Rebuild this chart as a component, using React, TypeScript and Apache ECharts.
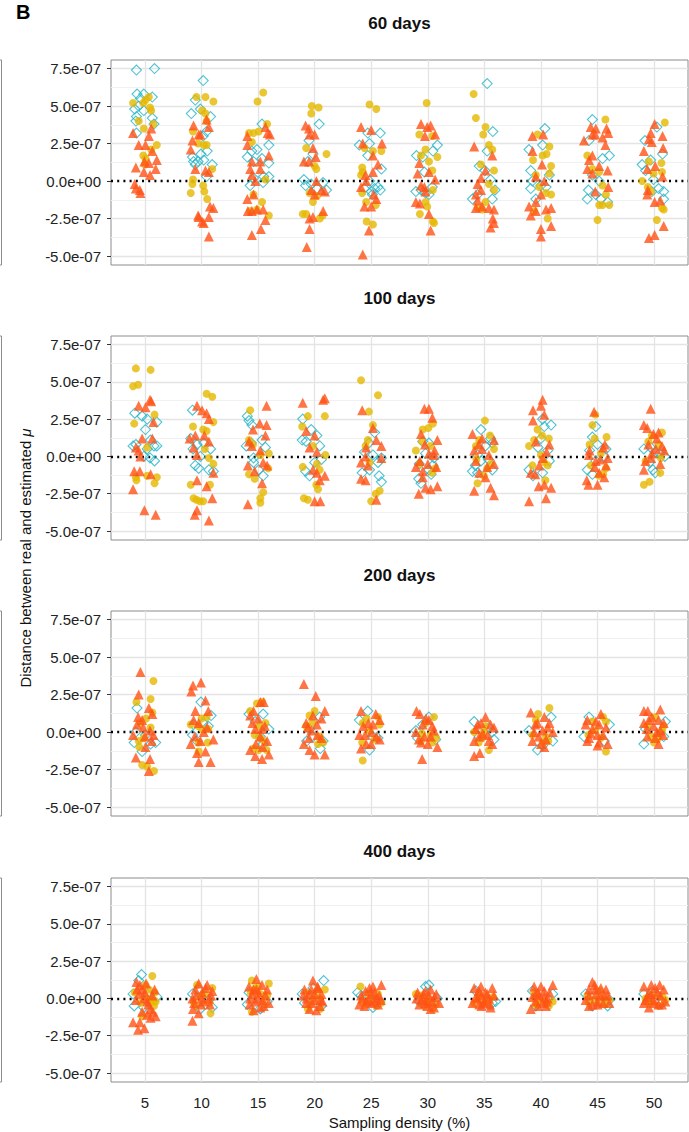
import React, { useEffect, useRef } from "react";
import * as echarts from "echarts";

// x axis categories (sampling density, %)
const categories = ["5", "10", "15", "20", "25", "30", "35", "40", "45", "50"];
const panelTitles = ["60 days", "100 days", "200 days", "400 days"];
const yTicks = [-5e-7, -2.5e-7, 0, 2.5e-7, 5e-7, 7.5e-7];
const yMinor = [-3.75e-7, -1.25e-7, 1.25e-7, 3.75e-7, 6.25e-7];

// points: [category position (1..10) incl. jitter, distance in units of 1e-8]
// ---- 60 days ----
const d60Diamond = [
  [0.85,74],[1.17,75],[0.86,58],[0.98,58],[0.92,55],[1.13,56],[0.82,48],[0.89,50],[0.98,47],[0.85,43],[1.13,42],[0.84,40],[1.16,38],[0.85,32],
  [2.03,67],[1.89,54],[1.82,45],[2.16,43],[1.98,48],[2.09,33],[2.03,30],[2.1,20],[1.84,16],[1.94,13],[2.19,11],[1.89,11],[2.04,14],[2.09,3],[1.99,18],[1.86,13],
  [3.07,38],[3.19,24],[2.81,16],[2.89,20],[2.98,21],[2.92,13],[3.07,15],[3.19,12],[3.1,3],[3.19,3],[2.86,-3],[2.92,2],[3.09,-1],
  [4.08,38],[3.9,27],[3.97,18],[3.88,13],[3.81,1],[3.84,-3],[4.04,-5],[4.15,-1],[4.21,-6],[3.94,-2],
  [4.94,32],[5.16,32],[4.79,24],[4.97,25],[4.94,17],[5.18,8],[4.88,-5],[5.0,-7],[5.06,-5],[5.12,-4],[5.16,-6],[5.02,-9],[4.97,0],
  [5.8,17],[6.09,20],[6.17,24],[5.79,-7],[5.88,-6],[5.96,-8],[6.02,-9],[6.08,-4],[5.94,6],[5.91,16],
  [7.05,65],[7.15,33],[7.05,20],[6.91,10],[7.11,1],[7.19,-6],[6.79,-12],[6.88,-9],[7.14,-12],[7.01,7],
  [8.07,35],[7.79,21],[8.03,24],[7.82,7],[7.85,0],[8.0,-3],[8.09,-4],[7.91,-12],[7.82,-5],[8.15,4],
  [8.91,41],[9.21,17],[8.85,27],[9.09,15],[8.91,4],[8.84,-6],[8.97,-9],[8.82,-12],[9.06,-12],[9.18,-14],[9.03,0],
  [10.05,36],[9.84,27],[10.15,18],[9.79,11],[9.85,7],[9.99,1],[10.08,-5],[10.17,-7],[10.17,-12],[9.96,-7],[9.94,14]
];
const d60Circle = [
  [0.79,52],[0.97,52],[1.07,56],[1.01,54],[1.11,47],[1.09,49],[0.89,40],[1.15,38],[0.98,35],[1.21,24],[0.97,17],[1.01,15],[1.11,21],[1.0,11],
  [1.91,56],[2.07,56],[2.21,53],[2.01,47],[2.07,45],[2.09,40],[1.85,33],[1.94,25],[2.04,24],[2.09,24],[2.19,8],[1.85,1],[1.84,-2],[1.81,-8],[2.03,-3],[2.05,-7],[2.1,-12],
  [3.09,59],[2.99,53],[3.16,38],[2.84,32],[2.92,32],[3.01,33],[2.89,26],[3.13,1],[2.92,-9],[3.07,-14],[3.19,-23],[2.86,-20],[2.98,-19],
  [3.95,50],[4.07,49],[3.94,45],[3.85,22],[4.0,10],[4.03,8],[4.21,18],[3.91,-8],[4.04,-10],[3.97,-14],[3.79,-22],[3.85,-22],[4.09,-25],[4.14,-23],
  [4.97,51],[5.09,48],[4.88,22],[5.03,20],[5.18,20],[4.84,9],[4.85,6],[4.82,4],[4.84,-8],[4.91,-14],[5.08,-16],[4.92,-27],[5.03,-29],
  [5.98,52],[5.85,31],[6.08,30],[5.96,21],[6.17,16],[5.88,17],[6.02,13],[6.08,7],[6.09,-6],[5.96,-14],[5.99,-17],[5.86,-22],[6.09,-27],[6.11,-28],
  [6.81,58],[6.85,42],[7.02,36],[6.98,31],[7.08,24],[7.14,21],[6.94,11],[7.17,7],[7.08,-2],[7.17,-6],[7.02,-14],[6.96,-19],[6.88,-18],
  [7.94,31],[8.15,23],[7.86,14],[8.03,17],[8.1,18],[8.18,10],[7.91,4],[8.15,5],[7.97,-4],[8.09,-8],[8.18,-9],[8.12,-25],[7.88,-20],
  [9.14,41],[8.82,17],[8.91,8],[9.03,6],[9.09,-3],[9.03,-16],[9.09,-16],[9.21,-16],[9.0,-26],[9.15,-9],
  [10.19,39],[9.91,13],[10.13,12],[9.99,5],[10.14,6],[9.79,0],[9.89,-4],[9.95,-7],[10.14,-18],[10.17,-19],[10.05,-26]
];
const d60Triangle = [
  [0.79,32],[0.89,24],[1.01,24],[1.11,35],[1.07,30],[1.13,20],[0.99,13],[1.07,12],[1.21,14],[0.84,9],[1.09,4],[1.19,8],[0.98,6],[0.82,-2],[0.84,-5],[0.91,-6],[0.92,-8],
  [1.86,37],[1.84,27],[1.95,31],[1.98,31],[2.09,41],[2.13,36],[1.81,21],[1.89,8],[2.07,7],[2.13,6],[1.95,-24],[2.01,-27],[2.04,-28],[2.13,-24],[1.94,-23],[2.15,-17],[2.21,-18],[2.13,-37],
  [2.81,30],[3.13,36],[3.17,32],[3.21,31],[2.81,24],[2.89,13],[3.04,13],[3.19,17],[2.86,8],[3.04,8],[2.89,4],[2.95,0],[2.81,-12],[2.92,-9],[2.89,-20],[2.98,-19],[3.09,-19],[2.82,-20],[3.13,-26],[3.05,-32],[2.89,-36],
  [3.84,37],[3.91,31],[4.0,31],[3.9,35],[3.97,22],[3.81,13],[3.9,13],[4.02,16],[3.94,-6],[4.03,0],[4.0,-9],[4.12,-6],[4.18,-7],[3.91,-25],[3.97,-24],[4.15,-20],[3.91,-32],[3.86,-44],
  [4.82,36],[5.0,34],[4.85,25],[5.19,25],[5.03,17],[5.12,11],[4.9,4],[5.03,6],[4.82,-4],[4.91,0],[5.04,-9],[5.09,-12],[5.0,-17],[4.88,-17],[4.96,-33],[4.85,-49],
  [5.88,38],[5.99,36],[6.05,37],[6.13,31],[5.95,30],[5.85,12],[6.02,6],[5.82,5],[6.13,1],[5.88,-3],[5.94,-4],[5.79,-14],[5.86,-15],[6.02,-22],[6.05,-33],[5.96,-7],
  [6.82,23],[7.14,17],[7.02,7],[6.94,2],[6.88,-2],[6.94,-6],[6.85,-9],[6.88,-13],[6.85,-18],[6.96,-17],[7.08,-18],[7.17,-19],[7.15,-25],[7.17,-28],[7.11,-31],
  [7.85,30],[8.04,31],[7.85,20],[8.02,11],[7.91,3],[8.06,0],[8.0,-9],[7.91,-14],[7.79,-17],[7.82,-23],[7.91,-20],[8.09,-19],[8.18,-18],[8.0,-32],[8.0,-37],[8.18,-30],
  [8.88,36],[8.97,35],[9.16,35],[8.91,31],[8.96,31],[9.19,32],[8.76,27],[9.09,29],[9.14,24],[8.91,17],[8.85,14],[8.82,8],[9.03,10],[9.18,7],[8.91,5],[8.96,-7],[9.19,-4],
  [10.01,38],[9.94,32],[10.15,30],[9.91,28],[9.96,26],[10.16,22],[9.82,20],[10.02,10],[9.88,8],[10.15,3],[9.89,-6],[9.88,-9],[10.01,-14],[10.11,-13],[10.17,-30],[10.01,-36],[9.91,-38]
];
// ---- 100 days ----
const d100Diamond = [
  [0.82,29],[0.95,27],[1.04,25],[1.21,23],[1.01,18],[0.79,7],[0.84,8],[1.04,5],[1.16,7],[1.21,7],[0.98,0],[1.09,-1],[1.17,-3],[1.1,11],
  [1.84,31],[1.81,12],[1.85,5],[2.04,9],[2.16,5],[1.89,-6],[1.95,-8],[2.13,-9],[2.21,-10],[1.98,0],[1.92,8],
  [2.81,27],[2.84,24],[2.89,21],[2.79,7],[3.07,11],[3.13,6],[2.92,-1],[3.01,-9],[3.09,-13],[2.92,-4],[2.88,9],
  [3.79,25],[3.94,18],[3.78,11],[3.85,10],[4.04,14],[4.09,7],[4.0,-4],[3.84,-10],[3.91,-13],[4.12,-2],
  [5.06,16],[4.96,9],[4.88,3],[5.18,-1],[5.12,-4],[4.84,-11],[4.97,-9],[5.14,-13],[5.18,-17],[5.03,1],
  [5.91,10],[6.02,9],[5.85,-5],[5.88,-18],[6.02,-9],[6.09,-6],[6.11,-1],[5.96,2],[6.06,-12],[5.84,-15],
  [6.94,18],[7.11,12],[7.14,9],[7.02,7],[6.88,1],[6.79,-10],[6.88,-11],[7.14,-9],[6.94,-3],[7.07,-2],[6.84,-6],
  [8.03,25],[8.06,20],[8.18,21],[8.12,4],[7.79,-9],[7.86,-13],[8.03,-11],[8.15,-3],[7.95,6],[8.0,12],
  [8.97,20],[8.91,13],[9.15,5],[8.82,-9],[8.91,-12],[8.97,-3],[9.0,8],[9.12,0],[8.86,4],
  [9.94,6],[10.02,3],[10.19,0],[9.98,-9],[10.02,-11],[9.82,5],[10.1,2],[9.92,-4]
];
const d100Circle = [
  [0.84,59],[0.79,47],[0.88,48],[1.1,58],[1.17,28],[0.81,22],[1.04,6],[1.04,-13],[0.84,-14],[0.85,-16],[1.21,-14],[1.17,-18],
  [2.09,42],[2.19,40],[1.85,20],[2.03,18],[2.09,17],[2.21,23],[2.06,5],[2.13,-1],[2.21,-5],[1.81,-19],[1.91,-29],[1.97,-30],[2.03,-30],[2.15,-19],[1.86,-28],
  [2.86,31],[2.84,11],[2.91,8],[3.04,1],[3.19,2],[2.84,-12],[2.94,-15],[3.18,-8],[3.09,-24],[3.04,-28],[3.04,-31],
  [3.88,27],[4.18,27],[3.78,20],[3.97,7],[4.19,1],[4.04,-5],[3.79,-7],[4.09,-9],[4.03,-19],[4.06,-22],[3.81,-28],[3.88,-29],
  [4.82,51],[4.96,30],[5.12,41],[5.03,21],[4.94,11],[4.9,7],[4.97,-4],[5.08,-25],[5.0,-30],[5.15,-23],
  [5.79,4],[5.91,18],[6.01,19],[6.09,22],[6.05,7],[5.85,-5],[6.08,-11],[5.9,10],[6.13,-8],
  [7.01,24],[6.91,11],[7.17,5],[6.85,7],[7.11,-5],[6.99,-13],[6.88,-18],[7.05,-8],[7.1,14],[6.86,-2],
  [7.94,18],[7.79,7],[7.88,11],[8.06,-4],[8.12,-6],[8.08,-16],[8.0,1],[7.85,-6],[8.14,12],[8.02,14],
  [8.96,28],[8.91,21],[9.16,13],[8.86,8],[9.06,2],[9.15,-8],[9.03,-13],[8.95,12],[9.1,-12],[8.88,-6],
  [10.14,16],[9.96,14],[10.08,8],[9.85,-3],[10.11,-11],[9.82,-19],[9.92,-17],[9.9,10],[10.12,-1]
];
const d100Triangle = [
  [0.89,34],[1.01,33],[1.09,38],[1.11,37],[1.15,23],[0.95,12],[1.13,12],[0.84,6],[0.89,4],[0.92,0],[0.81,-10],[0.91,-10],[1.1,-12],[0.79,-22],[0.99,-36],[1.19,-39],
  [1.92,34],[2.01,31],[2.09,29],[2.13,25],[2.13,10],[1.79,12],[1.89,14],[2.05,14],[1.86,6],[1.92,1],[1.92,-16],[2.09,-20],[2.21,-11],[2.19,-28],[1.92,-36],[1.88,-39],[2.13,-43],
  [3.15,34],[3.03,22],[3.15,21],[2.91,18],[2.84,10],[2.89,7],[3.13,14],[3.04,4],[2.82,-6],[2.94,-10],[3.09,-4],[3.16,-6],[3.07,-18],[2.82,-32],
  [3.79,36],[4.15,38],[4.18,39],[3.85,17],[4.0,14],[3.91,6],[4.04,3],[3.97,-9],[4.04,-11],[4.18,-13],[4.09,-16],[4.0,-30],[4.1,-30],
  [4.84,31],[5.03,19],[5.09,11],[5.18,7],[4.91,6],[4.9,0],[4.82,-4],[5.18,-1],[4.94,-6],[4.82,-15],[4.9,-16],[5.09,-29],
  [5.94,32],[6.02,32],[6.08,26],[5.88,15],[6.17,11],[6.02,2],[6.11,1],[5.79,-7],[5.91,-10],[6.15,-7],[5.91,-14],[5.96,-21],[6.05,-22],[6.17,-20],[5.84,-25],[5.86,-3],[6.0,-5],[6.12,4],[5.95,8],
  [6.79,15],[6.96,12],[7.17,11],[6.82,4],[7.08,1],[6.85,-3],[7.17,-5],[6.91,-11],[7.02,-14],[7.11,-21],[6.82,-23],[7.17,-26],[6.96,5],[7.05,-7],[6.9,8],
  [8.03,38],[8.0,34],[7.86,31],[8.06,28],[7.86,24],[7.91,10],[8.15,8],[8.03,-1],[7.97,-6],[7.82,-11],[8.06,-19],[7.96,-20],[8.18,-21],[8.09,-28],[7.79,-30],[8.1,3],[7.9,-12],
  [8.94,30],[9.1,6],[8.97,-3],[9.15,-6],[9.03,-11],[9.12,-14],[8.81,-16],[8.84,-19],[9.0,-19],[8.85,1],[8.86,4],[9.05,-2],[9.13,8],[8.95,-7],[9.18,-1],
  [9.94,32],[9.82,21],[9.88,19],[9.99,15],[10.08,16],[10.14,7],[9.85,-3],[10.11,-5],[9.82,-9],[9.96,2],[9.9,8],[10.05,12],[10.18,4],[9.95,-1],[10.03,5]
];
// ---- 200 days ----
const d200Diamond = [
  [0.86,16],[0.81,-7],[0.95,-13],[1.1,-8],[1.19,-7],[0.84,0],[1.01,-2],
  [1.99,20],[2.17,11],[1.86,5],[1.84,-2],[2.03,6],[1.92,-6],[2.12,4],
  [2.84,12],[3.09,12],[2.95,7],[3.19,2],[3.04,-3],[3.09,-8],
  [4.09,10],[3.91,2],[3.97,-3],[4.1,-11],[4.15,-6],[3.86,-6],
  [4.79,8],[4.94,14],[5.03,-3],[4.97,-12],[5.12,-4],
  [5.79,1],[5.91,5],[5.82,-4],[6.14,-5],[6.02,10],
  [6.82,7],[7.14,0],[6.91,-3],[7.08,3],[7.17,-5],
  [8.18,10],[7.79,1],[7.94,-12],[8.03,-9],[8.21,-6],
  [8.85,10],[8.76,-3],[9.21,5],[9.12,-6],
  [9.85,2],[10.2,7],[10.17,-3],[9.82,-8]
];
const d200Circle = [
  [1.15,34],[0.85,20],[1.1,22],[1.13,13],[0.92,6],[0.98,-4],[0.89,-6],[0.95,-22],[1.04,-23],[1.16,-26],[1.1,3],[1.02,9],[0.9,-10],
  [2.09,10],[1.94,4],[1.95,-7],[1.95,-13],[1.81,5],[2.11,-7],[2.01,2],[2.0,9],[2.12,2],
  [2.98,19],[3.07,20],[2.86,14],[3.01,4],[3.13,6],[3.04,-4],[3.1,-6],[2.92,-11],[3.01,-12],[2.94,-2],[3.15,-12],
  [4.0,14],[3.91,11],[4.09,-3],[3.85,4],[4.15,-7],[3.96,6],[4.06,-8],
  [5.12,10],[4.85,6],[4.97,1],[4.84,-7],[4.85,-19],[5.15,5],[5.06,-5],[4.92,9],
  [6.11,10],[5.96,6],[6.05,-2],[5.88,-6],[6.08,-7],[5.9,-1],[6.15,-4],
  [6.96,-4],[6.99,0],[7.08,-12],[6.82,0],[7.02,4],[6.9,-7],
  [8.15,16],[7.91,8],[7.85,-2],[8.09,-3],[8.03,-7],[8.13,-6],[7.95,12],
  [8.91,7],[9.15,7],[8.84,-2],[9.06,-4],[9.15,-13],[8.96,1],[9.1,10],
  [10.02,10],[9.88,4],[10.14,1],[9.95,-3],[10.08,-4],[10.0,-7],[10.17,4]
];
const d200Triangle = [
  [0.92,40],[0.89,25],[1.07,16],[1.13,12],[0.86,5],[0.79,-2],[0.97,3],[1.09,1],[1.15,-2],[1.01,-10],[1.09,-18],[0.84,-17],[1.07,-26],[0.95,8],[1.12,-6],[1.0,-3],[0.88,10],
  [1.82,27],[1.85,31],[1.99,33],[2.07,21],[1.89,14],[2.12,14],[1.86,8],[1.81,-8],[1.92,-14],[2.07,-13],[2.21,-5],[1.95,-20],[2.16,-20],[2.04,0],[1.95,6],[2.1,3],[1.98,-6],[1.88,-3],
  [3.04,20],[3.1,20],[2.92,14],[2.86,11],[2.95,2],[3.07,2],[3.16,-6],[2.86,-12],[2.95,-16],[3.07,-18],[3.19,-15],[3.04,-3],[2.9,6],[3.0,9],[3.12,4],[2.96,-8],[3.08,-10],
  [3.81,32],[4.02,24],[4.18,14],[3.85,6],[3.97,11],[4.04,5],[4.12,-4],[3.81,-8],[3.91,-12],[4.18,-15],[4.0,-15],[3.94,1],[3.9,-4],[4.05,-2],[4.12,9],[3.88,3],
  [4.82,14],[5.15,8],[5.03,5],[4.79,-2],[5.0,0],[5.09,-3],[5.15,-5],[4.82,-11],[4.91,-8],[4.89,-2],[4.95,6],[5.08,12],[4.86,4],[5.0,-8],
  [5.8,14],[5.86,12],[6.02,8],[5.91,5],[5.79,0],[5.94,-3],[6.05,-3],[6.11,1],[5.88,-7],[6.17,-10],[5.9,-18],[5.97,9],[6.08,4],[5.84,-5],[6.0,-8],
  [7.02,10],[6.94,6],[7.11,5],[7.17,3],[6.85,2],[6.91,-3],[6.82,-6],[7.08,-6],[6.82,-16],[6.92,-14],[6.97,-1],[7.06,-2],[6.88,5],[7.14,-8],
  [7.82,13],[8.06,10],[7.94,6],[8.15,6],[8.03,1],[7.88,0],[7.85,-6],[8.09,-5],[8.06,-10],[8.21,0],[7.96,-3],[8.12,3],[7.9,5],[8.0,-8],
  [9.06,12],[8.82,8],[8.79,5],[9.03,5],[8.91,2],[9.15,3],[9.0,-2],[8.85,-4],[8.82,-6],[9.18,-8],[9.03,-7],[8.97,7],[9.1,-2],[8.88,-1],[9.0,-9],
  [9.82,14],[9.89,14],[10.11,15],[9.91,8],[10.08,8],[10.17,6],[9.82,6],[9.99,4],[10.11,1],[9.88,-3],[10.02,-4],[10.08,-8],[9.96,10],[10.05,0],[9.87,2],[10.16,-2]
];
// ---- 400 days ----
const d400Diamond = [
  [0.94,16],[0.89,12],[0.79,3],[0.81,-5],[0.98,-6],[1.21,1],[1.04,3],
  [1.84,3],[1.95,6],[2.13,-1],[2.19,-6],[1.98,-7],
  [2.84,4],[2.81,-4],[3.04,-7],[3.16,-2],
  [4.16,12],[3.97,7],[3.78,3],[3.82,-3],[4.12,-5],
  [4.82,2],[5.03,-6],[5.15,-2],[4.76,4],
  [5.96,8],[6.02,9],[6.17,0],[5.85,-2],
  [7.14,-3],[7.2,-2],[6.85,5],
  [7.85,5],[8.21,3],[7.91,-5],
  [8.79,3],[9.21,-1],[8.91,-5],[9.18,-5],
  [9.82,3],[9.96,4],[10.14,-3]
];
const d400Circle = [
  [1.13,15],[0.82,4],[1.01,9],[1.07,6],[1.13,-1],[1.19,-2],[1.16,-5],[0.95,-12],[1.1,-3],[1.05,0],[0.92,-3],[1.17,4],
  [1.92,9],[2.19,7],[1.86,-2],[1.99,2],[2.16,-10],[2.05,3],[1.9,-5],[2.14,-3],
  [3.19,10],[2.89,12],[2.95,7],[3.04,3],[2.89,-9],[3.16,2],[3.0,8],[3.12,-4],[2.87,4],
  [4.04,5],[3.91,-5],[4.09,0],[3.88,-7],[4.18,6],[3.98,0],[4.1,-7],[3.86,4],
  [4.81,8],[5.12,3],[4.97,-1],[5.18,-3],[4.85,-3],[4.95,3],[5.1,-5],[4.9,-4],
  [5.79,3],[6.02,-1],[6.14,-4],[5.94,-5],[6.0,0],[5.88,2],[6.1,-6],
  [6.91,3],[7.08,-1],[6.96,-4],[6.82,-3],[7.02,-2],[6.9,1],[7.15,1],
  [7.88,4],[8.09,-3],[7.94,-4],[8.21,-2],[8.0,-1],[7.9,-4],[8.14,-5],
  [8.82,2],[9.03,5],[9.21,-1],[9.12,-4],[8.95,-1],[9.08,0],[8.85,-3],
  [10.2,-1],[9.85,0],[10.08,-5],[9.94,-3],[10.0,2],[9.9,-3],[10.15,1]
];
const d400Triangle = [
  [0.85,11],[0.91,9],[1.17,6],[0.95,6],[0.84,-1],[0.98,0],[1.04,-2],[1.1,-7],[1.04,-11],[1.19,-12],[1.1,-13],[0.79,-16],[0.91,-16],[0.88,-21],[0.99,-20],
  [1.0,4],[1.13,2],[0.9,3],[1.06,-4],[0.95,-9],[1.14,-9],[0.86,6],[1.02,10],
  [1.89,6],[2.07,7],[2.19,5],[2.01,4],[1.84,0],[2.13,0],[1.99,-4],[1.85,-7],[1.95,-10],[1.84,-15],
  [1.9,2],[2.04,-2],[2.15,-4],[1.95,10],[2.1,9],[1.87,-3],[2.0,0],[2.17,2],
  [2.97,13],[2.84,8],[3.07,9],[2.92,6],[3.01,4],[2.86,0],[2.95,-2],[3.1,-5],[3.19,-3],[2.92,-8],
  [3.0,0],[3.13,2],[2.9,3],[3.04,-6],[2.97,6],[3.16,6],[2.85,-4],[3.08,-1],
  [3.97,12],[3.82,6],[4.06,7],[3.91,3],[4.0,-1],[3.85,-3],[4.09,-5],[3.91,-7],[4.03,-8],[4.14,-2],
  [4.0,3],[4.12,3],[3.86,0],[3.95,-3],[4.1,-1],[4.05,8],[3.8,2],[3.94,6],
  [5.18,9],[4.97,7],[5.06,4],[4.82,2],[5.09,0],[4.91,-2],[4.79,-4],[5.0,-3],[5.12,-4],[4.88,-5],
  [5.0,3],[5.14,2],[4.9,5],[4.95,-1],[5.06,-2],[4.84,0],[5.17,-1],[5.03,8],
  [5.82,4],[5.91,0],[6.02,2],[6.08,-2],[5.85,-4],[5.99,-5],[6.11,-6],[6.05,-7],[6.2,-3],[5.96,5],
  [5.92,3],[6.0,-2],[6.12,1],[5.88,-1],[6.05,6],[5.95,-3],[6.15,3],[5.8,0],
  [6.82,7],[6.94,8],[7.14,7],[7.02,4],[6.88,0],[7.08,0],[6.79,-3],[6.99,-3],[7.11,-6],[6.91,-4],
  [6.95,2],[7.05,3],[6.85,1],[7.0,-2],[7.17,2],[6.9,5],[7.1,-4],[6.95,-5],
  [7.88,8],[8.21,9],[8.06,5],[7.97,2],[8.12,0],[7.91,-2],[8.03,-3],[7.82,-7],[8.09,-5],
  [7.95,4],[8.06,1],[8.15,4],[7.85,1],[7.95,-5],[8.1,-2],[8.0,8],[7.9,3],
  [8.91,11],[8.85,6],[9.06,7],[8.97,3],[9.12,2],[8.79,-1],[9.0,-2],[8.91,-4],[9.21,-3],[8.85,-5],
  [8.96,6],[9.05,2],[9.15,6],[8.85,2],[9.0,-4],[9.1,-3],[8.95,9],[9.18,2],
  [9.82,8],[10.02,7],[10.17,6],[9.91,4],[10.11,2],[9.85,-1],[9.99,-1],[9.91,-6],[10.08,-4],[10.2,-2],
  [9.95,3],[10.06,4],[9.88,1],[10.0,-3],[10.14,-4],[9.82,-3],[10.1,9],[9.95,9]
];

const panelData = [
  { diamonds: d60Diamond, circles: d60Circle, triangles: d60Triangle },
  { diamonds: d100Diamond, circles: d100Circle, triangles: d100Triangle },
  { diamonds: d200Diamond, circles: d200Circle, triangles: d200Triangle },
  { diamonds: d400Diamond, circles: d400Circle, triangles: d400Triangle },
];

const FONT = "'Liberation Sans', Arial, Helvetica, sans-serif";
const PANEL_TOPS = [60, 336, 611, 878];
const PANEL_H = [205, 204, 205, 204];
const TITLE_Y = [23, 298, 575, 851];
const GRID_LEFT = 111;
const GRID_W = 577;
const COL_DIAMOND = "#22b4c8";
const COL_CIRCLE = "#e6b800";
const COL_TRIANGLE = "#ff5217";

const fmtY = (v: number) => {
  if (Math.abs(v) < 1e-12) return "0.0e+00";
  return v.toExponential(1).replace(/e([+-])(\d)$/, "e$10$2");
};

function buildOption() {
  const catPos = categories.map((_, i) => i + 1);
  const grids: any[] = [];
  const xAxes: any[] = [];
  const yAxes: any[] = [];
  const series: any[] = [];
  const graphics: any[] = [];

  panelTitles.forEach((title, p) => {
    const isBottom = p === panelTitles.length - 1;
    grids.push({
      left: GRID_LEFT, top: PANEL_TOPS[p], width: GRID_W, height: PANEL_H[p],
      show: true, borderColor: "#8c8c8c", borderWidth: 1, backgroundColor: "#ffffff",
    });
    xAxes.push({
      type: "value", gridIndex: p, min: 0.4, max: 10.6,
      axisLine: { show: false },
      splitLine: { show: false },
      axisTick: { show: isBottom, customValues: catPos, length: 4, lineStyle: { color: "#333", width: 1 } },
      axisLabel: {
        show: isBottom, customValues: catPos, margin: 13,
        color: "#222", fontSize: 15, fontFamily: FONT,
        formatter: (v: number) => categories[Math.round(v) - 1] ?? "",
      },
      name: isBottom ? "Sampling density (%)" : "",
      nameLocation: "middle", nameGap: 33,
      nameTextStyle: { color: "#111", fontSize: 15, fontFamily: FONT },
    });
    yAxes.push({
      type: "value", gridIndex: p, min: -5.6e-7, max: 8.07e-7,
      axisLine: { show: false },
      splitLine: { show: false },
      axisTick: { show: true, customValues: yTicks, length: 4, lineStyle: { color: "#333", width: 1 } },
      axisLabel: { customValues: yTicks, margin: 10, color: "#222", fontSize: 15, fontFamily: FONT, formatter: fmtY },
    });

    const lines: any[] = [];
    yMinor.forEach((v) => lines.push({ yAxis: v, lineStyle: { color: "#f1f1f1", width: 1, type: "solid" } }));
    yTicks.filter((v) => v !== 0).forEach((v) => lines.push({ yAxis: v, lineStyle: { color: "#e4e4e4", width: 1.3, type: "solid" } }));
    catPos.forEach((c) => lines.push({ xAxis: c, lineStyle: { color: "#e4e4e4", width: 1.3, type: "solid" } }));
    lines.push({ yAxis: 0, lineStyle: { color: "#000000", width: 2.3, type: [2, 4.2] } });

    const d = panelData[p];
    const toPts = (arr: number[][]) => arr.map(([x, y]) => [x, y * 1e-8]);
    series.push({
      type: "scatter", xAxisIndex: p, yAxisIndex: p, z: 3,
      symbol: "diamond", symbolSize: 10,
      itemStyle: { color: "rgba(0,0,0,0)", borderColor: COL_DIAMOND, borderWidth: 1.1 },
      data: toPts(d.diamonds),
      markLine: {
        silent: true, z: 1, precision: 20, symbol: ["none", "none"],
        label: { show: false }, data: lines, animation: false,
      },
    });
    series.push({
      type: "scatter", xAxisIndex: p, yAxisIndex: p, z: 4,
      symbol: "circle", symbolSize: 8,
      itemStyle: { color: COL_CIRCLE },
      data: toPts(d.circles),
    });
    series.push({
      type: "scatter", xAxisIndex: p, yAxisIndex: p, z: 5,
      symbol: "triangle", symbolSize: 10,
      itemStyle: { color: COL_TRIANGLE },
      data: toPts(d.triangles),
    });

    graphics.push({
      type: "text", x: GRID_LEFT + GRID_W / 2, y: TITLE_Y[p],
      style: { text: title, fill: "#111", font: `bold 17px ${FONT}`, textAlign: "center", textVerticalAlign: "middle" },
    });
    // cropped frame of the neighbouring figure at the left edge
    const top = PANEL_TOPS[p], bot = PANEL_TOPS[p] + PANEL_H[p];
    graphics.push({
      type: "polyline",
      shape: { points: [[0, top], [1.5, top], [1.5, bot], [0, bot]] },
      style: { stroke: "#8c8c8c", lineWidth: 1, fill: null },
    });
  });

  graphics.push({
    type: "text", x: 16, y: 12,
    style: { text: "B", fill: "#000", font: `bold 20px ${FONT}`, textAlign: "left", textVerticalAlign: "middle" },
  });
  graphics.push({
    type: "text", x: 25, y: 558, rotation: Math.PI / 2,
    style: {
      text: "Distance between real and estimated {mu|μ}",
      rich: { mu: { fontStyle: "italic", fontSize: 15, fontFamily: FONT, fill: "#111" } },
      fill: "#111", font: `15px ${FONT}`, textAlign: "center", textVerticalAlign: "middle",
    },
  });

  return {
    animation: false,
    backgroundColor: "#ffffff",
    grid: grids,
    xAxis: xAxes,
    yAxis: yAxes,
    series,
    graphic: graphics,
  };
}

export default function App() {
  const ref = useRef<HTMLDivElement>(null);
  useEffect(() => {
    if (!ref.current) return;
    const chart = echarts.init(ref.current, undefined, { renderer: "svg" });
    chart.setOption(buildOption() as any);
    return () => chart.dispose();
  }, []);
  return (
    <div
      ref={ref}
      style={{ position: "absolute", left: 0, top: 0, width: 689, height: 1132, background: "#fff" }}
    />
  );
}
